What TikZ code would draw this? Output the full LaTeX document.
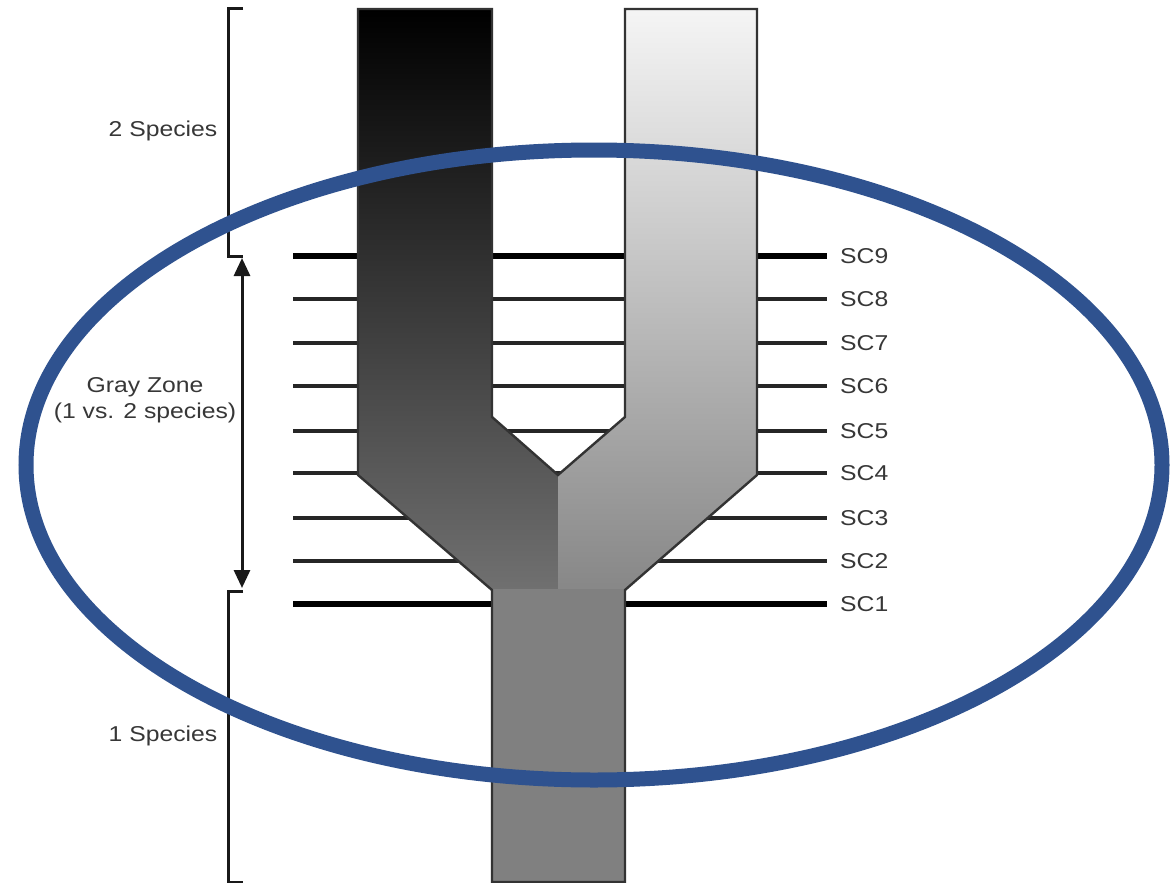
\documentclass[tikz,border=0pt]{standalone}
\usepackage{fontspec}
\setmainfont{Liberation Sans}[FakeStretch=1.15]
\usetikzlibrary{arrows.meta}
\definecolor{ringblue}{RGB}{47,82,143}
\definecolor{labelgray}{RGB}{55,55,55}
\begin{document}
\begin{tikzpicture}[x=1pt,y=-1pt,
  lab/.style={text=labelgray,font=\fontsize{21.5}{26}\selectfont,inner sep=0pt},
  thinlevel/.style={line width=3.4pt,draw=black!85},
  thicklevel/.style={line width=6pt,draw=black},
  bracket/.style={line width=3pt,draw=black!90},
  outline/.style={line width=2.4pt,draw=black!80,line join=miter},
  twohead/.style={bracket,{Triangle[length=18pt,width=16pt]}-{Triangle[length=18pt,width=16pt]}}]
\useasboundingbox (0,0) rectangle (1173,883);
\fill[white] (0,0) rectangle (1173,883);

% species-criterion levels
\foreach \i/\y in {8/299,7/343,6/386,5/431,4/473,3/518,2/561} {
  \coordinate (l\i) at (293,\y);
  \coordinate (r\i) at (827,\y);
  \draw[thinlevel] (l\i) -- (r\i);
}
\foreach \i/\y in {9/256,1/604} {
  \coordinate (l\i) at (293,\y);
  \coordinate (r\i) at (827,\y);
  \draw[thicklevel] (l\i) -- (r\i);
}
\foreach \i in {1,...,9} {
  \node[lab,anchor=west] (sc\i) at ([xshift=13pt]r\i) {SC\i};
}

% lineage tree: two branches merging into one stem
\shade[top color=black,bottom color=black!56]
  (358,9) -- (492,9) -- (492,417) -- (558,475) -- (558,590) -- (492,590) -- (358,475) -- cycle;
\shade[top color=black!4,bottom color=black!47]
  (625,9) -- (757,9) -- (757,475) -- (625,590) -- (558,590) -- (558,475) -- (625,417) -- cycle;
\fill[black!50] (492,589) rectangle (625,882);
\draw[outline]
  (358,9) -- (492,9) -- (492,417) -- (558,475) -- (625,417) -- (625,9) -- (757,9)
  -- (757,475) -- (625,590) -- (625,882) -- (492,882) -- (492,590) -- (358,475) -- cycle;

% brackets and range arrow
\draw[bracket] (243,9) -- (228,9) -- (228,256) -- (243,256);
\draw[bracket] (243,591) -- (228,591) -- (228,882) -- (243,882);
\coordinate (gzTop) at (242,258);
\coordinate (gzBot) at (242,588);
\draw[twohead] (gzTop) -- (gzBot);

\node[lab] (two) at (163,131) {2 Species};
\node[lab,align=center] (gray) at (145,400) {Gray Zone\\(1 vs. 2 species)};
\node[lab] (one) at (163,736) {1 Species};

% highlight ring
\draw[ringblue,line width=15pt] (594,465) ellipse [x radius=568pt,y radius=315pt];
\end{tikzpicture}
\end{document}
